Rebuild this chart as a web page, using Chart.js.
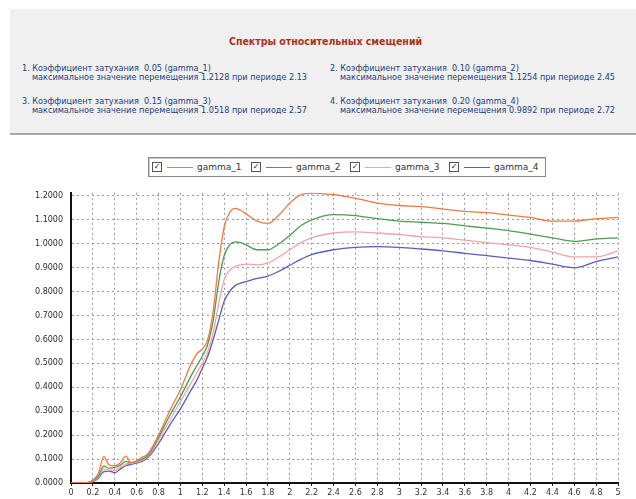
<!DOCTYPE html>
<html lang="ru">
<head>
<meta charset="utf-8">
<title>Спектры относительных смещений</title>
<script src="https://cdn.jsdelivr.net/npm/chart.js@4.4.1/dist/chart.umd.min.js"></script>
<style>
  body { margin: 0; width: 636px; height: 499px; background: #fff; position: relative; overflow: hidden;
         font-family: "DejaVu Sans Condensed", "DejaVu Sans", sans-serif; }
  #panel { position: absolute; left: 10px; top: 9px; right: 0; height: 124px; background: #f0f0f0;
           border-bottom: 2px solid #a8a8a8; }
  #titulo { position: absolute; left: 219px; top: 26px; font-size: 10.5px; white-space: nowrap;
            font-weight: bold; color: #b0301c; }
  .info { position: absolute; font-size: 9px; color: #24407a; line-height: 9px; white-space: nowrap; }
  .info span { display: block; padding-left: 10px; }
  #leyenda { position: absolute; left: 148px; top: 157px; width: 396px; height: 18px; border: 1px solid #8a8a8a;
             box-shadow: inset 1px 1px 0 #c8c8c8; background: #fff; display: flex; align-items: center;
             font-family: "DejaVu Sans", sans-serif; font-size: 9px; color: #333; }
  .item { display: flex; align-items: center; width: 99px; }
  .check { width: 8px; height: 8px; border: 1px solid #555; font-size: 8px; line-height: 8px; text-align: center;
           margin-left: 3px; color: #222; }
  .linea { width: 26px; margin: 0 4px 0 5px; border-top: 1px solid; }
  #grafico { position: absolute; left: 0; top: 180px; }
</style>
</head>
<body>
<div id="panel">
  <div id="titulo">Спектры относительных смещений</div>
</div>
<div id="leyenda"></div>
<canvas id="grafico" width="636" height="319"></canvas>
<script>
// Периоды (с) и значения относительных смещений для четырёх коэффициентов затухания
const periodos = [0, 0.1, 0.15, 0.2, 0.25, 0.3, 0.35, 0.4, 0.45, 0.5, 0.55, 0.6, 0.65, 0.7, 0.8, 0.9,
  1.0, 1.1, 1.15, 1.2, 1.25, 1.3, 1.35, 1.4, 1.45, 1.5, 1.55, 1.6, 1.7, 1.8, 1.9, 2.0, 2.1, 2.2,
  2.4, 2.6, 2.8, 3.0, 3.2, 3.4, 3.6, 3.8, 4.0, 4.2, 4.4, 4.6, 4.8, 5.0];

const gamma1 = [0, 0, 0.002, 0.012, 0.04, 0.11, 0.075, 0.072, 0.085, 0.112, 0.085, 0.092, 0.108, 0.12, 0.2, 0.3,
  0.39, 0.5, 0.54, 0.56, 0.6, 0.72, 0.92, 1.07, 1.13, 1.148, 1.14, 1.125, 1.095, 1.085, 1.12, 1.17, 1.205, 1.212,
  1.205, 1.19, 1.17, 1.16, 1.155, 1.145, 1.135, 1.13, 1.12, 1.11, 1.095, 1.095, 1.105, 1.11];

const gamma2 = [0, 0, 0.001, 0.01, 0.03, 0.07, 0.062, 0.065, 0.075, 0.09, 0.085, 0.092, 0.1, 0.115, 0.19, 0.28,
  0.36, 0.45, 0.49, 0.53, 0.58, 0.68, 0.84, 0.95, 0.995, 1.008, 1.005, 0.995, 0.975, 0.975, 1.0, 1.035, 1.075, 1.1,
  1.122, 1.118, 1.105, 1.095, 1.09, 1.085, 1.075, 1.065, 1.055, 1.04, 1.025, 1.01, 1.02, 1.025];

const gamma3 = [0, 0, 0.001, 0.008, 0.025, 0.058, 0.055, 0.052, 0.065, 0.08, 0.082, 0.088, 0.095, 0.11, 0.18, 0.26,
  0.34, 0.42, 0.46, 0.5, 0.55, 0.63, 0.75, 0.85, 0.89, 0.905, 0.912, 0.915, 0.912, 0.92, 0.945, 0.975, 1.005, 1.025,
  1.045, 1.05, 1.045, 1.038, 1.03, 1.025, 1.015, 1.005, 0.995, 0.985, 0.965, 0.945, 0.945, 0.97];

const gamma4 = [0, 0, 0.001, 0.006, 0.02, 0.048, 0.05, 0.043, 0.058, 0.072, 0.078, 0.084, 0.09, 0.105, 0.165, 0.24,
  0.31, 0.39, 0.43, 0.48, 0.53, 0.6, 0.68, 0.76, 0.8, 0.825, 0.835, 0.842, 0.855, 0.865, 0.885, 0.91, 0.935, 0.955,
  0.975, 0.985, 0.988, 0.985, 0.978, 0.97, 0.96, 0.95, 0.94, 0.93, 0.915, 0.9, 0.925, 0.945];

// Деления осей
const marcasY = [0, 0.1, 0.2, 0.3, 0.4, 0.5, 0.6, 0.7, 0.8, 0.9, 1.0, 1.1, 1.2];

const nombres = ["gamma_1", "gamma_2", "gamma_3", "gamma_4"];
const colores = ["#ef7a44", "#4c9c55", "#f2a3aa", "#5b5bc2"];
const amortiguacion = ["0.05", "0.10", "0.15", "0.20"];
const maximos = ["1.2128", "1.1254", "1.0518", "0.9892"];
const periodosMax = ["2.13", "2.45", "2.57", "2.72"];

// Подписи над графиком (две колонки, две строки)
const panel = document.getElementById("panel");
const posiciones = [[12, 55], [320, 55], [12, 88], [320, 88]];
nombres.forEach((n, i) => {
  const d = document.createElement("div");
  d.className = "info";
  d.style.left = posiciones[i][0] + "px";
  d.style.top = posiciones[i][1] + "px";
  d.innerHTML = `${i + 1}. Коэффициент затухания &nbsp;${amortiguacion[i]} (${n})` +
    `<span>максимальное значение перемещения ${maximos[i]} при периоде ${periodosMax[i]}</span>`;
  panel.appendChild(d);
});

const series = [gamma1, gamma2, gamma3, gamma4];
const datasets = series.map((s, i) => ({
  label: nombres[i],
  data: s.map((v, k) => ({ x: periodos[k], y: v })),
  borderColor: colores[i],
  borderWidth: 1.3,
  pointRadius: 0,
  cubicInterpolationMode: "monotone",
  fill: false
}));

// Легенда с флажками
const leyenda = document.getElementById("leyenda");
datasets.forEach(ds => {
  leyenda.innerHTML += `<div class="item"><div class="check">✓</div>` +
    `<div class="linea" style="border-color:${ds.borderColor}"></div><div>${ds.label}</div></div>`;
});

const fuenteTicks = { family: "DejaVu Sans", size: 8 };

new Chart(document.getElementById("grafico"), {
  type: "line",
  data: { datasets },
  options: {
    responsive: false,
    animation: false,
    layout: { padding: { top: 11, right: 18, left: 0, bottom: 0 } },
    plugins: { legend: { display: false }, tooltip: { enabled: false } },
    scales: {
      x: {
        type: "linear",
        min: 0,
        max: 5,
        ticks: {
          stepSize: 0.2,
          autoSkip: false,
          maxRotation: 0,
          color: "#333",
          font: fuenteTicks,
          padding: 2,
          callback: v => String(Number(v.toFixed(1)))
        },
        grid: { color: "#9a9a9a", lineWidth: 1, tickLength: 3, tickColor: "#222" },
        border: { color: "#111", width: 2, dash: [2, 3] },
        afterFit: s => { s.height = 16; }
      },
      y: {
        min: 0,
        max: 1.213,
        ticks: {
          color: "#2a2a2a",
          font: fuenteTicks,
          padding: 8,
          callback: v => v.toFixed(4)
        },
        afterBuildTicks: s => { s.ticks = marcasY.map(v => ({ value: v })); },
        grid: { color: "#9a9a9a", lineWidth: 1, drawTicks: false },
        border: { color: "#111", width: 2, dash: [2, 3] },
        afterFit: s => { s.width = 71; }
      }
    }
  }
});
</script>
</body>
</html>
